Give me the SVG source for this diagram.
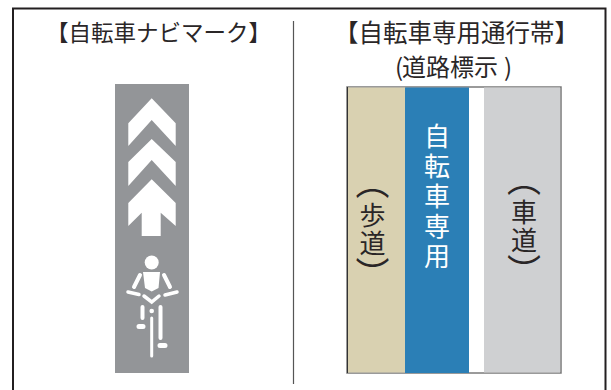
<svg xmlns="http://www.w3.org/2000/svg" width="611" height="390" viewBox="0 0 611 390">
<style>
text{font-family:"Noto Sans CJK JP","Noto Sans",sans-serif;fill:#2a2627;text-anchor:middle}
.v{font-size:26px;writing-mode:vertical-rl}
.p{font-size:34px;writing-mode:vertical-rl}
.b{font-size:26px;writing-mode:vertical-rl;fill:#fff}
.w{fill:#fff;stroke:none}
.s{stroke:#fff;fill:none;stroke-linecap:round}
</style>
<rect width="611" height="390" fill="#fff"/>
<path d="M13 390V8.500H605.500V390" fill="none" stroke="#231f20" stroke-width="2"/>
<path d="M293.500 21V384" stroke="#555" stroke-width="1.200"/>
<g id="left-title"><text x="158.500" y="41" style="font-size:22.500px">【自転車ナビマーク】</text></g>
<g id="navi-mark">
<rect x="115" y="84" width="74" height="289" fill="#939598"/>
<path class="w" d="M151.700 98.300L175.700 123.300V146L151.700 120L128.300 146V123.300Z"/>
<path class="w" d="M151.700 139L175.700 162V186L151.700 160L128.300 186V162Z"/>
<path class="w" d="M151.700 179.300L175.700 203V226L160.700 212.700V236H141.700V212.700L128.300 226V203Z"/>
<circle class="w" cx="151.700" cy="262.500" r="7"/>
<path class="w" d="M143 272H160L158.500 288L151.700 291.500L145 288Z"/>
<path class="s" stroke-width="4" d="M140 275L134 287M164 275L170 287"/>
<path class="s" stroke-width="3.500" d="M128 292L139 294.500M177 292L165 295"/>
<path class="s" stroke-width="3.500" d="M144 296L151.700 302L159 296"/>
<path class="s" stroke-width="4" d="M142.500 307V318M160.500 307V338"/>
<path class="s" stroke-width="3" d="M151.700 318V356"/>
<circle class="w" cx="151.700" cy="311" r="2.300"/>
<path class="s" stroke-width="5" d="M139 326.500H143M160 345.500H165"/>
</g>
<g id="right-title">
<text x="456.500" y="42" style="font-size:24.500px">【自転車専用通行帯】</text>
<text x="399" y="76" style="font-size:24px">(</text>
<text x="450" y="76" style="font-size:24px">道路標示</text>
<text x="508" y="76" style="font-size:24px">)</text>
</g>
<g id="road">
<rect x="347" y="87" width="214" height="286" fill="#fff" stroke="#7a7a7a" stroke-width="1.500"/>
<rect x="347.500" y="87.500" width="58" height="285" fill="#d9d1b1"/>
<rect x="405" y="87.500" width="64" height="285.500" fill="#2b7fb6"/>
<rect x="484" y="87.500" width="76" height="285" fill="#cfd0d2"/>
<path d="M347.500 87V373" stroke="#333" stroke-width="1"/>
<text class="p" x="372.500" y="182">（</text>
<text class="v" x="372.500" y="215">歩</text>
<text class="v" x="372.500" y="243">道</text>
<text class="p" x="372.500" y="274">）</text>
<text class="b" x="437" y="136">自</text>
<text class="b" x="437" y="166">転</text>
<text class="b" x="437" y="196">車</text>
<text class="b" x="437" y="226">専</text>
<text class="b" x="437" y="256">用</text>
<text class="p" x="524" y="179.500">（</text>
<text class="v" x="524" y="212.500">車</text>
<text class="v" x="524" y="240">道</text>
<text class="p" x="524" y="271.500">）</text>
</g>
</svg>
